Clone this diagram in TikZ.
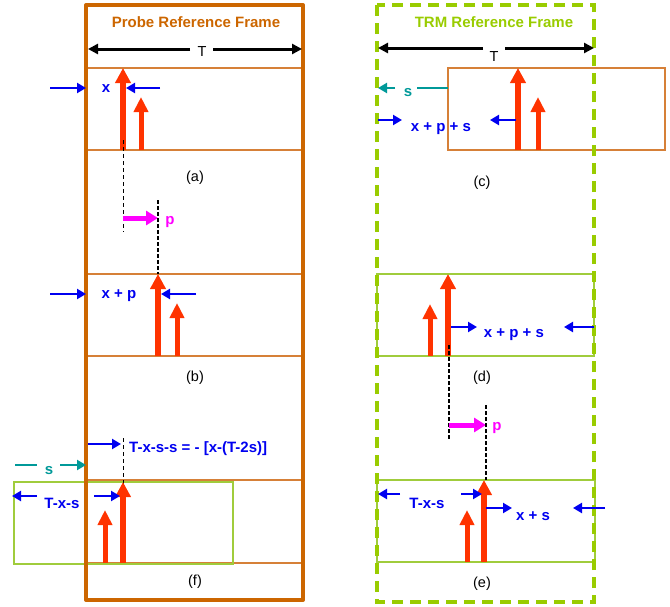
\documentclass[tikz,border=0pt]{standalone}
\usepackage{fontspec}
\setmainfont{Liberation Sans}
\usetikzlibrary{arrows.meta}
\definecolor{frameor}{RGB}{204,102,0}
\definecolor{lineor}{RGB}{214,128,56}
\definecolor{pred}{RGB}{255,51,0}
\definecolor{pblue}{RGB}{0,0,240}
\definecolor{pmag}{RGB}{255,0,255}
\definecolor{pteal}{RGB}{0,153,153}
\definecolor{pgreen}{RGB}{153,204,0}
\definecolor{boxgreen}{RGB}{160,204,60}
\tikzset{
  bigred/.style={pred, line width=6pt, -{Triangle[width=15pt,length=15pt]}},
  smallred/.style={pred, line width=5pt, -{Triangle[width=14pt,length=15pt]}},
  barrow/.style={pblue, line width=2.2pt, -{Triangle[width=10pt,length=9pt]}},
  tealarrow/.style={pteal, line width=2.2pt, -{Triangle[width=10pt,length=9pt]}},
  magarrow/.style={pmag, line width=5pt, -{Triangle[width=14pt,length=12pt]}},
  tarrow/.style={black, line width=3pt, -{Triangle[width=10pt,length=10pt]}},
  thindash/.style={black, line width=1pt, dash pattern=on 4pt off 3pt},
  thickdash/.style={black, line width=2pt, dash pattern=on 4pt off 2pt},
  thinor/.style={lineor, line width=1.3pt},
  thingr/.style={boxgreen, line width=1.3pt},
  lbl/.style={font=\fontsize{15}{17}\selectfont\bfseries, text=pblue, inner sep=0pt},
  captxt/.style={font=\fontsize{14.5}{16}\selectfont, inner sep=0pt},
  titlefont/.style={font=\fontsize{15}{17}\selectfont\bfseries, inner sep=0pt},
}
\begin{document}
\begin{tikzpicture}[x=1pt,y=-1pt]
\useasboundingbox (0,0) rectangle (670,606);

% ---------- Left: Probe Reference Frame ----------
\foreach \yy in {68,150,274,356,480,563} \draw[thinor] (86,\yy) -- (303,\yy);
\draw[thingr] (14,482) rectangle (233,564);
\draw[frameor, line width=4pt, line join=round] (86,5) rectangle (303,600);
\node[titlefont, text=frameor] (ptitle) at (196,22) {Probe Reference Frame};
\node[captxt] (pT) at (202,52) {T};
\coordinate (pTl) at (88,49); \coordinate (pTr) at (302,49);
\draw[tarrow] (190,49) -- (pTl);
\draw[tarrow] (213,49) -- (pTr);

% (a)
\draw[bigred] (123,150) -- (123,68);
\draw[smallred] (141,150) -- (141,97);
\draw[barrow] (50,88) -- (86,88);
\draw[barrow] (160,88) -- (126,88);
\node[lbl] (lx) at (106,89) {x};
\node[captxt] (ca) at (195,178) {(a)};
\draw[thindash] (123,140) -- (123,232);
\draw[magarrow] (123,218) -- (158,218);
\node[lbl, text=pmag] (pa) at (170,222) {p};
\draw[thickdash] (158,200) -- (158,274);

% (b)
\draw[bigred] (158,356) -- (158,274);
\draw[smallred] (177,356) -- (177,303);
\draw[barrow] (50,294) -- (86,294);
\draw[barrow] (196,294) -- (161,294);
\node[lbl] (lxp) at (119,296) {x + p};
\node[captxt] (cb) at (195,378) {(b)};

% (f)
\draw[barrow] (88,444) -- (121,444);
\node[lbl, anchor=west] (leq) at (129,449) {T-x-s-s = - [x-(T-2s)]};
\draw[thindash] (123,438) -- (123,515);
\draw[pteal, line width=2.2pt] (15,465) -- (37,465);
\draw[tealarrow] (60,465) -- (86,465);
\node[lbl, text=pteal] (ls1) at (49,471) {s};
\draw[bigred] (123,563) -- (123,482);
\draw[smallred] (105,563) -- (105,510);
\draw[barrow] (37,496) -- (12,496);
\draw[barrow] (94,496) -- (120,496);
\node[lbl] (ltxs1) at (62,503) {T-x-s};
\node[captxt] (cf) at (195,582) {(f)};

% ---------- Right: TRM Reference Frame ----------
\draw[thinor] (448,68) rectangle (665,150);
\draw[thingr] (377,274) rectangle (594,356);
\draw[thingr] (377,480) rectangle (595,562);
\draw[pgreen, line width=4.5pt, dash pattern=on 11pt off 7pt] (377,5) rectangle (594,602);
\node[titlefont, text=pgreen] (ttitle) at (494,22) {TRM Reference Frame};
\node[captxt] (tT) at (494,57) {T};
\draw[tarrow] (483,48) -- (378,48);
\draw[tarrow] (505,48) -- (594,48);

% (c)
\draw[bigred] (518,150) -- (518,68);
\draw[smallred] (538,150) -- (538,97);
\draw[pteal, line width=2.2pt] (448,88) -- (417,88);
\draw[tealarrow] (395,88) -- (378,88);
\node[lbl, text=pteal] (ls2) at (408,93) {s};
\draw[barrow] (378,120) -- (402,120);
\node[lbl] (lxps1) at (441,129) {x + p + s};
\draw[barrow] (516,120) -- (490,120);
\node[captxt] (cc) at (482,183) {(c)};

% (d)
\draw[bigred] (448,356) -- (448,274);
\draw[smallred] (430,356) -- (430,304);
\draw[barrow] (451,327) -- (477,327);
\node[lbl] (lxps2) at (514,335) {x + p + s};
\draw[barrow] (594,327) -- (564,327);
\node[captxt] (cd) at (482,378) {(d)};
\draw[thickdash] (449,345) -- (449,439);
\draw[magarrow] (449,425) -- (486,425);
\node[lbl, text=pmag] (pd) at (497,428) {p};
\draw[thickdash] (486,405) -- (486,480);

% (e)
\draw[bigred] (484,562) -- (484,480);
\draw[smallred] (467,562) -- (467,510);
\draw[barrow] (400,494) -- (378,494);
\node[lbl] (ltxs2) at (427,503) {T-x-s};
\draw[barrow] (461,494) -- (482,494);
\draw[barrow] (486,508) -- (512,508);
\node[lbl] (lxs) at (533,516) {x + s};
\draw[barrow] (605,508) -- (573,508);
\node[captxt] (ce) at (482,584) {(e)};
\end{tikzpicture}
\end{document}
